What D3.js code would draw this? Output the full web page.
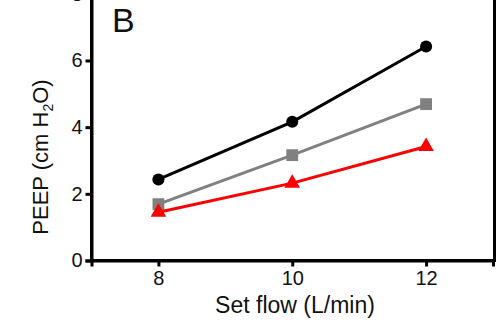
<!DOCTYPE html>
<html><head><meta charset="utf-8">
<script src="https://cdn.jsdelivr.net/npm/d3@7"></script>
<style>body{margin:0;background:#fff}svg{display:block}text{font-family:"Liberation Sans",Arial,sans-serif}</style>
</head><body>
<script>
const flows = [8, 10, 12];
const blackSeries = [2.43, 4.16, 6.42];
const graySeries = [1.69, 3.16, 4.69];
const redSeries = [1.45, 2.32, 3.42];
const yTicks = [0, 2, 4, 6, 8];
const xTicks = [8, 10, 12];
const panelLabel = "B";

const W = 500, H = 324;
const svg = d3.select("body").append("svg").attr("width", W).attr("height", H);
const x = d3.scaleLinear().domain([7, 13]).range([91.5, 493]);
const y = d3.scaleLinear().domain([0, 8]).range([260.5, -6.2]);

// frame (top/right)
svg.append("rect").attr("x", x(7)).attr("y", y(9.5)).attr("width", x(13) - x(7) + 1.5)
  .attr("height", y(0) - y(9.5)).attr("fill", "none").attr("stroke", "#000").attr("stroke-width", 3);

const yAxis = svg.append("g").attr("transform", `translate(${x(7)},0)`)
  .call(d3.axisLeft(y).tickValues(yTicks).tickFormat(d3.format("d")).tickSize(6).tickPadding(3));
const xAxis = svg.append("g").attr("transform", `translate(0,${y(0)})`)
  .call(d3.axisBottom(x).tickValues(xTicks).tickFormat(d3.format("d")).tickSize(6).tickPadding(4));
[yAxis, xAxis].forEach(g => {
  g.select(".domain").attr("stroke-width", 3);
  g.selectAll(".tick line").attr("stroke-width", 3);
  g.selectAll("text").attr("font-size", 20).attr("fill", "#111").style("font-family", '"Liberation Sans",Arial,sans-serif');
});

const line = d3.line().x((d, i) => x(flows[i])).y(d => y(d));
const series = [
  {vals: blackSeries, color: "#000000", shape: d3.symbolCircle, size: 115},
  {vals: graySeries, color: "#808080", shape: d3.symbolSquare, size: 140},
  {vals: redSeries, color: "#ff0000", shape: d3.symbolTriangle, size: 105}
];
series.forEach(s => {
  svg.append("path").datum(s.vals).attr("d", line).attr("fill", "none")
    .attr("stroke", s.color).attr("stroke-width", 3);
  svg.selectAll(null).data(s.vals).enter().append("path")
    .attr("d", d3.symbol().type(s.shape).size(s.size))
    .attr("transform", (d, i) => `translate(${x(flows[i])},${y(d)})`)
    .attr("fill", s.color);
});

svg.append("text").attr("x", 112).attr("y", 32).attr("font-size", 34).attr("fill", "#111").text(panelLabel);

svg.append("text").attr("x", 295).attr("y", 313).attr("text-anchor", "middle")
  .attr("font-size", 23).attr("fill", "#111").text("Set flow (L/min)");

const yl = svg.append("text").attr("transform", "translate(48,157) rotate(-90)")
  .attr("text-anchor", "middle").attr("font-size", 22).attr("fill", "#111");
yl.append("tspan").text("PEEP (cm H");
yl.append("tspan").attr("font-size", 14).attr("dy", 5).text("2");
yl.append("tspan").attr("dy", -5).text("O)");
</script>
</body></html>
